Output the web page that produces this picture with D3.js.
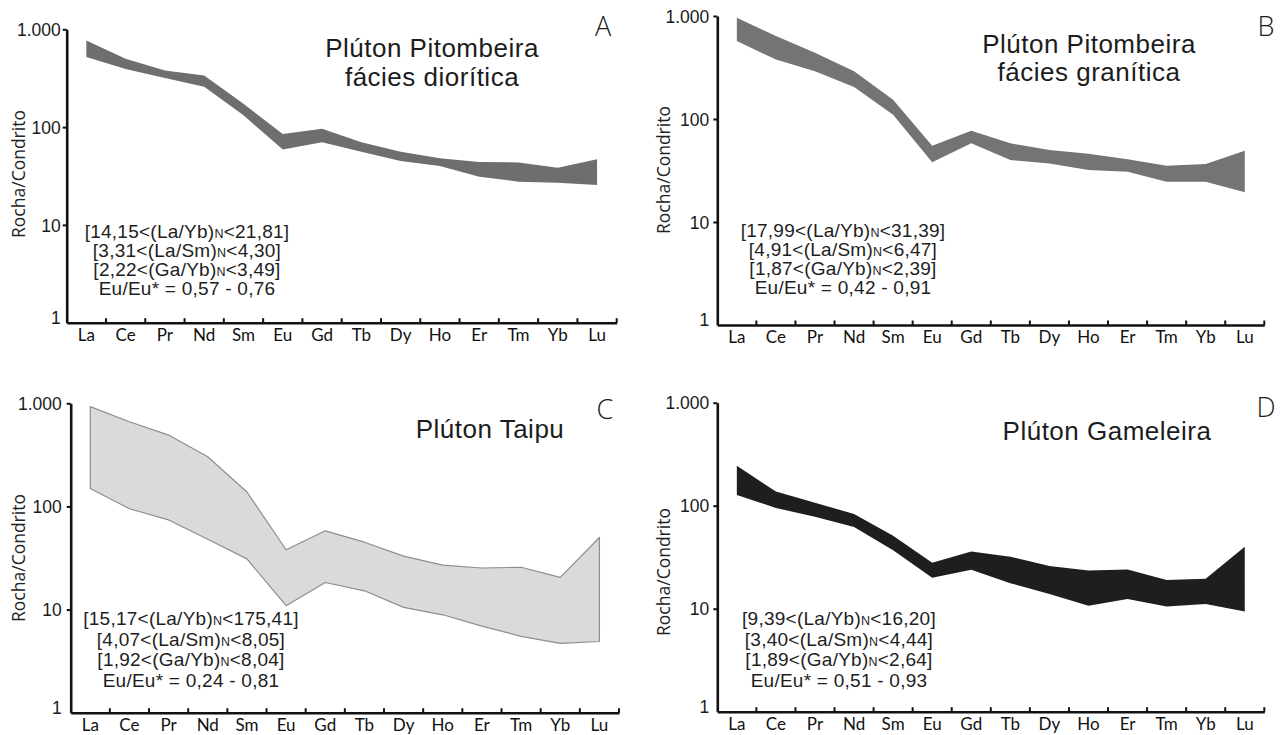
<!DOCTYPE html>
<html>
<head>
<meta charset="utf-8">
<script src="https://cdn.jsdelivr.net/npm/d3@7"></script>
<style>
  body { margin: 0; background: #fff; }
  svg  { display: block; }
  .arial { font-family: 'Liberation Sans', Arial, sans-serif; }
</style>
</head>
<body>
<svg id="chart" width="1280" height="735"></svg>
<script>
// REE spider diagrams, chondrite normalised — four plutons, one panel each.

const ree         = ['La','Ce','Pr','Nd','Sm','Eu','Gd','Tb','Dy','Ho','Er','Tm','Yb','Lu'];
const yTicks      = [1, 10, 100, 1000];
const yTickLabels = ['1', '10', '100', '1.000'];

// envelope of each facies: upper and lower bounds per element
const aUpper = [770, 500, 378, 336, 173, 85, 96, 70, 56, 48, 44, 43.5, 38.5, 47];
const aLower = [520, 392, 318, 259, 132, 59, 70, 56, 45, 40, 31, 27.7, 27, 25.6];

const bUpper = [963, 638, 440, 291, 154, 55, 77, 58, 50, 46, 40.6, 35.2, 36.5, 49.2];
const bLower = [571, 378, 291, 205, 110, 38, 58, 40, 37, 32, 30.7, 24.6, 24.6, 19.4];

const cUpper = [929, 663, 492, 303, 138, 38, 58, 45, 33, 27, 25.3, 25.7, 20.5, 50];
const cLower = [149, 95, 74, 48, 31, 10.9, 18.3, 15.2, 10.5, 8.9, 6.9, 5.5, 4.7, 4.9];

const dUpper = [244, 137, 107, 83, 51, 28, 36, 32, 26, 23.5, 24, 19, 19.5, 40];
const dLower = [127, 95, 78, 62, 37, 20, 23.9, 17.7, 13.9, 10.7, 12.4, 10.5, 11.1, 9.4];

const aTitle = ['Plúton Pitombeira', 'fácies diorítica'];
const bTitle = ['Plúton Pitombeira', 'fácies granítica'];
const cTitle = ['Plúton Taipu'];
const dTitle = ['Plúton Gameleira'];

const aNotes = ['[14,15<(La/Yb)N<21,81]', '[3,31<(La/Sm)N<4,30]', '[2,22<(Ga/Yb)N<3,49]', 'Eu/Eu* = 0,57 - 0,76'];
const bNotes = ['[17,99<(La/Yb)N<31,39]', '[4,91<(La/Sm)N<6,47]', '[1,87<(Ga/Yb)N<2,39]', 'Eu/Eu* = 0,42 - 0,91'];
const cNotes = ['[15,17<(La/Yb)N<175,41]', '[4,07<(La/Sm)N<8,05]', '[1,92<(Ga/Yb)N<8,04]', 'Eu/Eu* = 0,24 - 0,81'];
const dNotes = ['[9,39<(La/Yb)N<16,20]', '[3,40<(La/Sm)N<4,44]', '[1,89<(Ga/Yb)N<2,64]', 'Eu/Eu* = 0,51 - 0,93'];

const panels = [
  { letter: 'A', upper: aUpper, lower: aLower, fill: '#6e6e6e', stroke: 'none',
    x0: 66.7, x1: 616.7, yTop: 29.3, yBot: 322.7,
    title: aTitle, titleX: 432, titleY: 57, notes: aNotes, notesX: 187, notesY: 238, notesDy: 19,
    letterX: 603, letterY: 36, ylabX: 24.5, ylabY: 174, labGap: 4 },
  { letter: 'B', upper: bUpper, lower: bLower, fill: '#747474', stroke: 'none',
    x0: 717.3, x1: 1264.3, yTop: 16, yBot: 325,
    title: bTitle, titleX: 1089, titleY: 52.5, notes: bNotes, notesX: 843, notesY: 237, notesDy: 19,
    letterX: 1266, letterY: 36, ylabX: 670, ylabY: 170, labGap: 6 },
  { letter: 'C', upper: cUpper, lower: cLower, fill: '#dadada', stroke: '#8e8e8e',
    x0: 70.7, x1: 619, yTop: 403.3, yBot: 712.7,
    title: cTitle, titleX: 490, titleY: 437.5, notes: cNotes, notesX: 191, notesY: 625, notesDy: 20.5,
    letterX: 605, letterY: 418.5, ylabX: 24.5, ylabY: 558, labGap: 7 },
  { letter: 'D', upper: dUpper, lower: dLower, fill: '#1e1e1e', stroke: 'none',
    x0: 717.3, x1: 1264.3, yTop: 402.7, yBot: 711.7,
    title: dTitle, titleX: 1107, titleY: 439.5, notes: dNotes, notesX: 839, notesY: 625, notesDy: 20.5,
    letterX: 1266, letterY: 416.5, ylabX: 670, ylabY: 572, labGap: 6 },
];

const svg = d3.select('#chart');
svg.append('rect').attr('width', 1280).attr('height', 735).attr('fill', '#fff');

panels.forEach(p => {
  const g = svg.append('g');

  const x = d3.scaleBand().domain(ree).range([p.x0, p.x1]).padding(0);
  const y = d3.scaleLog().domain([1, 1000]).range([p.yBot, p.yTop]);
  const cx = el => x(el) + x.bandwidth() / 2;

  const rows = ree.map((el, i) => ({ el, hi: p.upper[i], lo: p.lower[i] }));

  const area = d3.area()
    .x(d => cx(d.el))
    .y0(d => y(d.lo))
    .y1(d => y(d.hi));

  g.append('path')
    .datum(rows)
    .attr('d', area)
    .attr('fill', p.fill)
    .attr('stroke', p.stroke)
    .attr('stroke-width', 1.2)
    .attr('stroke-linejoin', 'round');

  // y axis — log ticks at the decades only
  const yAxis = d3.axisLeft(y)
    .tickValues(yTicks)
    .tickFormat((d, i) => yTickLabels[i])
    .tickSizeInner(4).tickSizeOuter(0).tickPadding(p.labGap - 2);

  const gy = g.append('g')
    .attr('transform', `translate(${p.x0},0)`)
    .call(yAxis);
  gy.attr('font-family', null).attr('font-size', null);
  gy.select('.domain').attr('stroke', '#111').attr('stroke-width', 2.6);
  gy.selectAll('.tick line').attr('stroke', '#111').attr('stroke-width', 2)
    .attr('display', d => d === 1 ? 'none' : null);
  gy.selectAll('.tick text')
    .attr('class', 'arial')
    .attr('font-size', 17.5).attr('fill', '#1a1a1a')
    .attr('dy', d => d === 1 ? '0.05em' : '0.35em');

  // x axis — labels at band centres, ticks at band edges pointing up
  const xAxis = d3.axisBottom(x).tickSize(0).tickPadding(6);
  const gx = g.append('g')
    .attr('transform', `translate(0,${p.yBot})`)
    .call(xAxis);
  gx.attr('font-family', null).attr('font-size', null);
  gx.select('.domain').attr('stroke', '#111').attr('stroke-width', 2.6);
  gx.selectAll('.tick text')
    .attr('font-family', 'Lato, "Open Sans", sans-serif')
    .attr('font-size', 17).attr('fill', '#111');

  g.append('g').selectAll('line')
    .data(ree)
    .join('line')
    .attr('x1', d => x(d) + x.bandwidth()).attr('x2', d => x(d) + x.bandwidth())
    .attr('y1', p.yBot).attr('y2', p.yBot - 4.5)
    .attr('stroke', '#111').attr('stroke-width', 2);

  // axis title
  g.append('text')
    .attr('transform', `translate(${p.ylabX},${p.ylabY}) rotate(-90)`)
    .attr('text-anchor', 'middle')
    .attr('font-family', '"Open Sans", sans-serif')
    .attr('font-size', 17.5).attr('fill', '#222')
    .text('Rocha/Condrito');

  // pluton name
  g.append('g').selectAll('text')
    .data(p.title)
    .join('text')
    .attr('class', 'arial')
    .attr('x', p.titleX).attr('y', (d, i) => p.titleY + i * 28.5)
    .attr('text-anchor', 'middle')
    .attr('font-size', 26).attr('letter-spacing', 0.5).attr('fill', '#1c1c1c')
    .text(d => d);

  // panel letter
  g.append('text')
    .attr('x', p.letterX).attr('y', p.letterY)
    .attr('text-anchor', 'middle')
    .attr('font-family', '"Open Sans", sans-serif').attr('font-weight', 300)
    .attr('font-size', 27).attr('fill', '#1c1c1c')
    .text(p.letter);

  // ratio notes; the N subscript is drawn small on the baseline
  const notes = g.append('g').selectAll('text')
    .data(p.notes)
    .join('text')
    .attr('class', 'arial')
    .attr('x', p.notesX).attr('y', (d, i) => p.notesY + i * p.notesDy)
    .attr('text-anchor', 'middle')
    .attr('font-size', 19).attr('letter-spacing', 0.25).attr('fill', '#1e1e1e');

  notes.each(function(d) {
    const t = d3.select(this);
    const parts = d.split(')N<');
    if (parts.length < 2) { t.text(d); return; }
    t.append('tspan').text(parts[0] + ')');
    t.append('tspan').attr('font-size', 12.5).text('N');
    t.append('tspan').text('<' + parts[1]);
  });
});
</script>
</body>
</html>
